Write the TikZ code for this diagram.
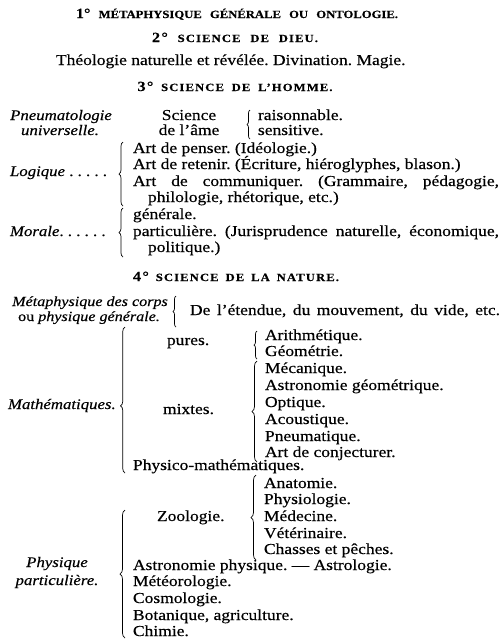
\documentclass[tikz,border=0pt]{standalone}
\usepackage{fontspec}
\setmainfont{Liberation Serif}[FakeStretch=1.15,FakeBold=0.4]
\usetikzlibrary{decorations.pathreplacing}
\frenchspacing
\newcommand\mainsz{\fontsize{15.2}{16}\selectfont}
\newcommand\labsz{\fontsize{14.6}{16}\selectfont}
\newcommand\smsz{\fontsize{14}{15}\selectfont}
\newcommand\hdA{\fontsize{11}{12}\selectfont\bfseries}
\newcommand\hdB{\fontsize{11}{12}\selectfont\bfseries\addfontfeature{LetterSpace=10}}
\newcommand\num[1]{{\fontsize{14}{14}\selectfont #1}}
\begin{document}
\begin{tikzpicture}[x=1pt,y=-1pt,
  every node/.style={inner sep=0pt,outer sep=0pt},
  tx/.style={anchor=base west,font=\mainsz},
  tc/.style={anchor=base,font=\mainsz},
  it/.style={anchor=base,font=\labsz\itshape},
  br/.style={decorate,decoration={brace,amplitude=#1},line width=0.7pt},
  br/.default=4pt]
\useasboundingbox (0,0) rectangle (503,641);

% headings
\node[anchor=base,font=\hdA] (h1) at (237,18) {\makebox[322pt][s]{\num{1°} MÉTAPHYSIQUE GÉNÉRALE OU ONTOLOGIE.}};
\node[anchor=base,font=\hdB] (h2) at (235,42) {\makebox[166pt][s]{\num{2°} SCIENCE DE DIEU.}};
\node[tx] (h3) at (56,65) {Théologie naturelle et révélée. Divination. Magie.};
\node[anchor=base,font=\hdB] (h4) at (235,91) {\makebox[195pt][s]{\num{3°} SCIENCE DE L’HOMME.}};

% Pneumatologie
\node[it] (pn1) at (61,120) {Pneumatologie};
\node[it] (pn2) at (60,135) {universelle.};
\node[tc] (sc1) at (189,120) {Science};
\node[tc] (sc2) at (189,135) {de l’âme};
\coordinate (b1a) at (250,139); \coordinate (b1b) at (250,110);
\draw[br=3pt] (b1a) -- (b1b);
\node[tx] (ra) at (258,120) {raisonnable.};
\node[tx] (se) at (258,135) {sensitive.};

% Logique
\node[anchor=base west,font=\labsz] (lo) at (10,176) {\textit{Logique} . . . . .};
\coordinate (b2a) at (123,206); \coordinate (b2b) at (123,142);
\draw[br] (b2a) -- (b2b);
\node[tx] (l1) at (133,153) {Art de penser. (Idéologie.)};
\node[tx] (l2) at (133,169) {Art de retenir. (Écriture, hiéroglyphes, blason.)};
\node[tx] (l3) at (133,186) {\makebox[366pt][s]{Art de communiquer. (Grammaire, pédagogie,}};
\node[tx] (l4) at (148,202) {philologie, rhétorique, etc.)};

% Morale
\node[anchor=base west,font=\labsz] (mo) at (10,236) {\textit{Morale}. . . . . .};
\coordinate (b3a) at (123,257); \coordinate (b3b) at (123,208);
\draw[br] (b3a) -- (b3b);
\node[tx] (m1) at (133,219) {générale.};
\node[tx] (m2) at (133,236) {\makebox[366pt][s]{particulière. (Jurisprudence naturelle, économique,}};
\node[tx] (m3) at (148,252) {politique.)};

% 4
\node[anchor=base,font=\hdB] (h5) at (236,281) {\makebox[206pt][s]{\num{4°} SCIENCE DE LA NATURE.}};

\node[anchor=base,font=\smsz\itshape] (mc1) at (90,306) {Métaphysique des corps};
\node[anchor=base,font=\smsz] (mc2) at (89,321) {ou \textit{physique générale.}};
\coordinate (b4a) at (176,327); \coordinate (b4b) at (176,296);
\draw[br=3pt] (b4a) -- (b4b);
\node[tx] (et) at (190,315) {\makebox[310pt][s]{De l’étendue, du mouvement, du vide, etc.}};

% Mathematiques
\node[anchor=base west,font=\labsz\itshape] (ma) at (8,409) {Mathématiques.};
\coordinate (b5a) at (125,473); \coordinate (b5b) at (125,327);
\draw[decorate,decoration={brace,amplitude=4.5pt,aspect=0.46},line width=0.7pt] (b5a) -- (b5b);
\node[tx] (pu) at (167,345) {pures.};
\coordinate (b6a) at (257,359); \coordinate (b6b) at (257,331);
\draw[br=3pt] (b6a) -- (b6b);
\node[tx] (ar) at (265,340) {Arithmétique.};
\node[tx] (ge) at (265,356) {Géométrie.};
\node[tx] (mi) at (163,414) {mixtes.};
\coordinate (b7a) at (257,462); \coordinate (b7b) at (257,361);
\draw[br=5pt] (b7a) -- (b7b);
\node[tx] (x1) at (265,373) {Mécanique.};
\node[tx] (x2) at (265,390) {Astronomie géométrique.};
\node[tx] (x3) at (265,407) {Optique.};
\node[tx] (x4) at (265,424) {Acoustique.};
\node[tx] (x5) at (265,441) {Pneumatique.};
\node[tx] (x6) at (265,457) {Art de conjecturer.};
\node[tx] (pm) at (133,470) {Physico-mathématiques.};

% Physique particuliere
\node[tx] (zo) at (157,521) {Zoologie.};
\coordinate (b8a) at (256,560); \coordinate (b8b) at (256,475);
\draw[br=5pt] (b8a) -- (b8b);
\node[tx] (z1) at (264,488) {Anatomie.};
\node[tx] (z2) at (264,504) {Physiologie.};
\node[tx] (z3) at (264,521) {Médecine.};
\node[tx] (z4) at (264,538) {Vétérinaire.};
\node[tx] (z5) at (264,554) {Chasses et pêches.};
\node[it] (pp1) at (57,567) {Physique};
\node[it] (pp2) at (57,585) {particulière.};
\coordinate (b9a) at (125,638) ; \coordinate (b9b) at (125,510);
\draw[br=5pt] (b9a) -- (b9b);
\node[tx] (p1) at (133,570) {Astronomie physique. — Astrologie.};
\node[tx] (p2) at (133,586) {Météorologie.};
\node[tx] (p3) at (133,603) {Cosmologie.};
\node[tx] (p4) at (133,620) {Botanique, agriculture.};
\node[tx] (p5) at (133,636) {Chimie.};
\end{tikzpicture}
\end{document}
